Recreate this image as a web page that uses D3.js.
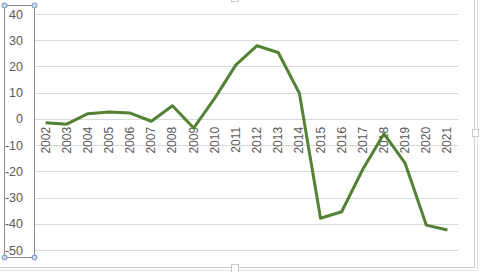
<!DOCTYPE html>
<html lang="en">
<head>
<meta charset="UTF-8">
<title>Chart</title>
<style>
  body { margin: 0; background: #fff; }
  svg text { font-family: "Liberation Sans", Arial, sans-serif; fill: #595959; }
</style>
</head>
<body>
<script src="https://d3js.org/d3.v7.min.js"></script>
<script>
  const years = ["2002","2003","2004","2005","2006","2007","2008","2009","2010","2011",
                 "2012","2013","2014","2015","2016","2017","2018","2019","2020","2021"];
  const values = [-1.5, -2, 2, 2.6, 2.2, -0.9, 5, -3.5, 7.9, 20.6,
                  27.9, 25.3, 9.8, -37.9, -35.4, -19.2, -5.7, -16.9, -40.5, -42.4];
  const yTicks = [40, 30, 20, 10, 0, -10, -20, -30, -40, -50];

  const w = 504, h = 272;
  const plotLeft = 35, plotRight = 458, plotTop = 14, plotBottom = 250;

  const svg = d3.select("body").append("svg")
    .attr("width", w)
    .attr("height", h);

  // chart frame
  svg.append("path")
    .attr("d", `M0,267.5 H474.5 V0`)
    .attr("fill", "none").attr("stroke", "#d0d0d0");
  svg.append("path")
    .attr("d", `M0,270.5 H477.5 V0`)
    .attr("fill", "none").attr("stroke", "#e4e4e4");

  const x = d3.scaleBand().domain(years).range([plotLeft, plotRight]);
  const y = d3.scaleLinear().domain([-50, 40]).range([plotBottom, plotTop]);

  // gridlines
  svg.append("g").selectAll("line").data(yTicks).enter().append("line")
    .attr("x1", plotLeft).attr("x2", plotRight)
    .attr("y1", d => Math.round(y(d)) + 0.5).attr("y2", d => Math.round(y(d)) + 0.5)
    .attr("stroke", "#d9d9d9");

  // y labels
  svg.append("g").selectAll("text").data(yTicks).enter().append("text")
    .attr("x", 23).attr("y", d => y(d) + 4.5)
    .attr("text-anchor", "end")
    .style("font-size", "12.5px")
    .text(d => d);

  // x labels (sit under the zero line)
  svg.append("g").selectAll("text").data(years).enter().append("text")
    .attr("transform", d => `translate(${x(d) + x.bandwidth() / 2 + 4},${y(0) + 8}) rotate(-90)`)
    .attr("text-anchor", "end")
    .style("font-size", "12px")
    .text(d => d);

  // line
  const line = d3.line()
    .x((d, i) => x(years[i]) + x.bandwidth() / 2)
    .y(d => y(d));
  svg.append("path")
    .datum(values)
    .attr("d", line)
    .attr("fill", "none")
    .attr("stroke", "#548235")
    .attr("stroke-width", 3)
    .attr("stroke-linejoin", "round");

  // selection box around value axis
  svg.append("rect")
    .attr("x", 4.5).attr("y", 5.5).attr("width", 30).attr("height", 252)
    .attr("fill", "none").attr("stroke", "#8c8c8c");
  [[4.5, 5.5], [34.5, 5.5], [4.5, 257.5], [34.5, 257.5]].forEach(p => {
    svg.append("circle").attr("cx", p[0]).attr("cy", p[1]).attr("r", 2.5)
      .attr("fill", "#c9daf0").attr("stroke", "#6f8fb8");
  });

  // frame handles
  svg.append("rect").attr("x", 231.5).attr("y", 264.5).attr("width", 7).attr("height", 8)
    .attr("fill", "#fff").attr("stroke", "#c8c8c8");
  svg.append("rect").attr("x", 231.5).attr("y", -4.5).attr("width", 7).attr("height", 6)
    .attr("fill", "#fff").attr("stroke", "#c8c8c8");
  svg.append("rect").attr("x", 472.5).attr("y", 129.5).attr("width", 6).attr("height", 7)
    .attr("fill", "#fff").attr("stroke", "#c8c8c8");
</script>
</body>
</html>
